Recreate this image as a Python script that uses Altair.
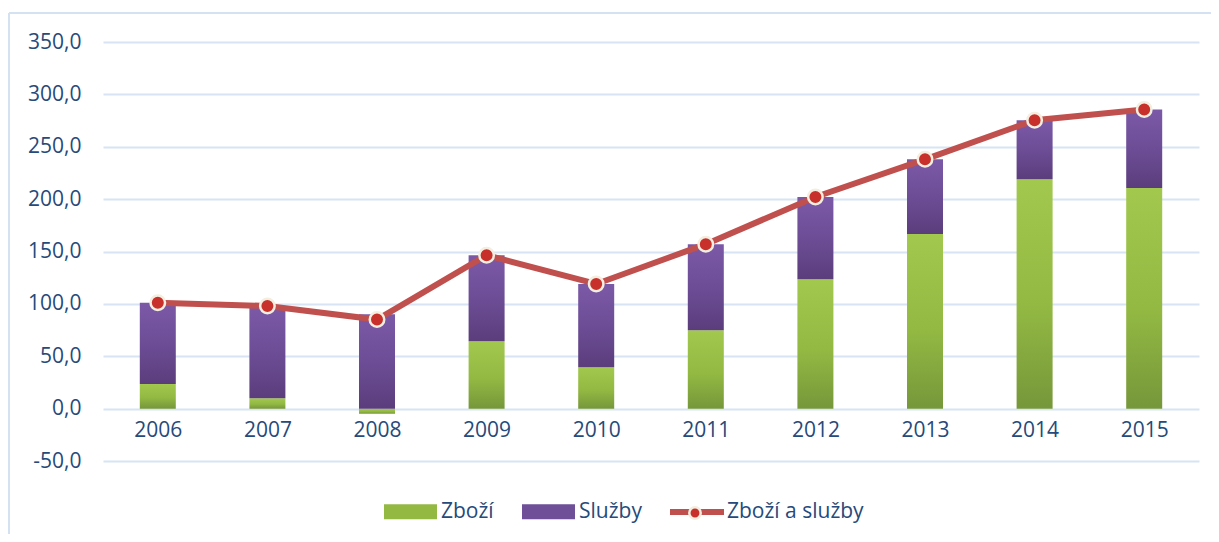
import altair as alt
import numpy as np
import pandas as pd

years = ["2006", "2007", "2008", "2009", "2010", "2011", "2012", "2013", "2014", "2015"]
zbozi = [23.6, 9.9, -5.0, 64.3, 39.5, 74.9, 123.6, 166.7, 219.0, 210.7]
total = [101.0, 98.0, 85.0, 146.5, 119.0, 157.0, 202.0, 238.0, 275.4, 285.6]
sluzby = [round(t - z, 1) for t, z in zip(total, zbozi)]
y_ticks = [-50, 0, 50, 100, 150, 200, 250, 300, 350]
series = ["Zboží", "Služby"]
line_name = "Zboží a služby"

df = pd.DataFrame({"year": years, "zbozi": zbozi, "sluzby": sluzby, "total": total})
df["base"] = np.maximum(df["zbozi"], 0)
df["top"] = df["base"] + df["sluzby"]
df["zero"] = 0.0

FONT = "Open Sans"
TXT = "#264a7a"
FS = 21

green_grad = alt.Gradient(gradient="linear", x1=0, y1=0, x2=0, y2=1,
                          stops=[alt.GradientStop(color="#a2c84e", offset=0),
                                 alt.GradientStop(color="#93b943", offset=0.55),
                                 alt.GradientStop(color="#76973a", offset=1)])
purple_grad = alt.Gradient(gradient="linear", x1=0, y1=0, x2=0, y2=1,
                           stops=[alt.GradientStop(color="#7c59a7", offset=0),
                                  alt.GradientStop(color="#6b4c94", offset=0.55),
                                  alt.GradientStop(color="#5b3d7c", offset=1)])

xscale = alt.Scale(type="point", padding=0.5)
yscale = alt.Scale(domain=[-50, 350], nice=False, zero=False)

x_enc = alt.X("year:N", scale=xscale, sort=years,
              axis=alt.Axis(title=None, domain=False, ticks=False, grid=False,
                            labelFont=FONT, labelFontSize=FS, labelColor=TXT,
                            labelPadding=11, offset=-53, labelAngle=0))

base = alt.Chart(df)

axis_layer = base.mark_bar(opacity=0).encode(
    x=x_enc,
    y=alt.Y("zero:Q", scale=yscale,
            axis=alt.Axis(title=None, values=y_ticks, domain=False, ticks=False,
                          grid=True, gridColor="#d8e4f4", gridWidth=2,
                          labelFont=FONT, labelFontSize=FS, labelColor=TXT,
                          labelPadding=22,
                          labelExpr="replace(replace(format(datum.value, '.1f'), '.', ','), '\u2212', '-')")),
)

green = base.mark_bar(size=36, fill=green_grad).encode(
    x=alt.X("year:N", scale=xscale, sort=years),
    y=alt.Y("zero:Q", scale=yscale),
    y2="zbozi:Q",
)

purple = base.mark_bar(size=36, fill=purple_grad).encode(
    x=alt.X("year:N", scale=xscale, sort=years),
    y=alt.Y("base:Q", scale=yscale),
    y2="top:Q",
)

legend_df = pd.DataFrame({"s": series})
bar_legend = alt.Chart(legend_df).mark_point(filled=True, size=0).encode(
    color=alt.Color("s:N", scale=alt.Scale(domain=series, range=["#93b943", "#6e4f98"]),
                    legend=alt.Legend(title=None, orient="none", legendX=281, legendY=443,
                                      direction="horizontal",
                                      symbolType="M-1,-0.283H1V0.283H-1Z",
                                      symbolSize=2809, symbolStrokeWidth=0,
                                      symbolOpacity=1, labelOffset=4, columnPadding=28,
                                      labelFont=FONT, labelFontSize=FS, labelColor=TXT,
                                      padding=0)),
)

line = base.mark_line(strokeWidth=6).encode(
    x=alt.X("year:N", scale=xscale, sort=years),
    y=alt.Y("total:Q", scale=yscale),
    stroke=alt.Stroke("name:N", scale=alt.Scale(domain=[line_name], range=["#c0504d"]),
                      legend=alt.Legend(title=None, orient="none", legendX=564, legendY=440,
                                        symbolType="M-1,0H1", symbolSize=2916,
                                        symbolStrokeWidth=6, labelOffset=0,
                                        labelFont=FONT, labelFontSize=FS, labelColor=TXT,
                                        padding=0)),
).transform_calculate(name=f"'{line_name}'")

points = base.mark_point(filled=True, size=210, stroke="#f3eedf", strokeWidth=2.5, opacity=1).encode(
    x=alt.X("year:N", scale=xscale, sort=years),
    y=alt.Y("total:Q", scale=yscale),
    fill=alt.Fill("name:N", scale=alt.Scale(domain=[line_name], range=["#c8302c"]),
                  legend=alt.Legend(title=None, orient="none", legendX=585, legendY=464,
                                    symbolType="circle", symbolSize=130,
                                    symbolStrokeColor="#f3eedf", symbolStrokeWidth=2.5,
                                    labelExpr="''", padding=0)),
).transform_calculate(name=f"'{line_name}'")

frame_top = alt.Chart(legend_df.head(1)).mark_rule(color="#d3e1f3", strokeWidth=2, clip=False).encode(
    x=alt.value(-94), x2=alt.value(1116), y=alt.value(-29))
frame_left = alt.Chart(legend_df.head(1)).mark_rule(color="#d3e1f3", strokeWidth=2, clip=False).encode(
    x=alt.value(-94), y=alt.value(-29), y2=alt.value(500))

chart = alt.layer(axis_layer, green, purple, bar_legend, line, points, frame_top, frame_left).resolve_scale(
    color="independent", stroke="independent", fill="independent"
).properties(
    width=1096, height=419,
    background="white",
    autosize=alt.AutoSizeParams(type="none"),
    padding={"left": 95, "top": 34, "right": 12, "bottom": 73},
).configure_view(stroke=None)

chart.save("out.html", embed_options={"renderer": "svg", "actions": False})
